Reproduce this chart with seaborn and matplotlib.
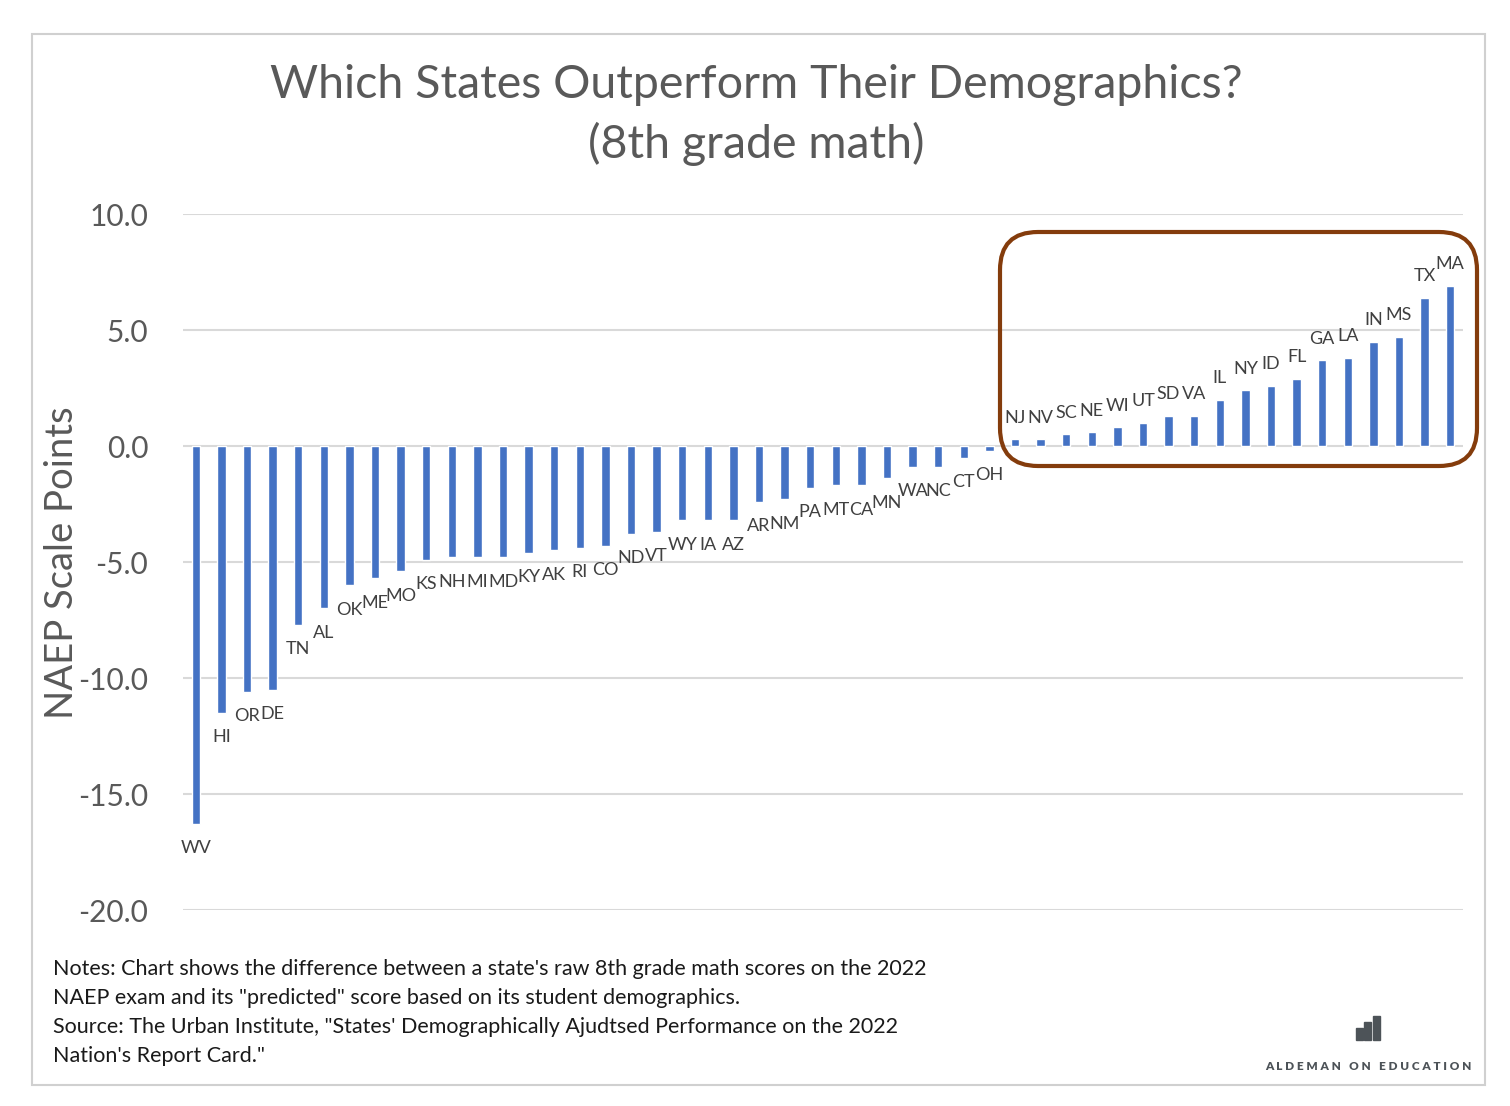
import matplotlib
matplotlib.use('Agg')
import matplotlib.pyplot as plt
from matplotlib.patches import FancyBboxPatch, Rectangle
from matplotlib.ticker import FormatStrFormatter
import seaborn as sns
import pandas as pd

# difference between raw and demographically predicted NAEP 8th grade math score
states = ['WV', 'HI', 'OR', 'DE', 'TN', 'AL', 'OK', 'ME', 'MO', 'KS',
          'NH', 'MI', 'MD', 'KY', 'AK', 'RI', 'CO', 'ND', 'VT', 'WY',
          'IA', 'AZ', 'AR', 'NM', 'PA', 'MT', 'CA', 'MN', 'WA', 'NC',
          'CT', 'OH', 'NJ', 'NV', 'SC', 'NE', 'WI', 'UT', 'SD', 'VA',
          'IL', 'NY', 'ID', 'FL', 'GA', 'LA', 'IN', 'MS', 'TX', 'MA']
gap = [-16.3, -11.5, -10.6, -10.5, -7.7, -7.0, -6.0, -5.7, -5.4, -4.9,
       -4.8, -4.8, -4.8, -4.6, -4.5, -4.4, -4.3, -3.8, -3.7, -3.2,
       -3.2, -3.2, -2.4, -2.3, -1.8, -1.7, -1.7, -1.4, -0.9, -0.9,
       -0.5, -0.2, 0.3, 0.3, 0.5, 0.6, 0.8, 1.0, 1.3, 1.3,
       2.0, 2.4, 2.6, 2.9, 3.7, 3.8, 4.5, 4.7, 6.4, 6.9]
y_ticks = [-20, -15, -10, -5, 0, 5, 10]

title = 'Which States Outperform Their Demographics?\n(8th grade math)'
notes = ['Notes: Chart shows the difference between a state\'s raw 8th grade math scores on the 2022',
         'NAEP exam and its "predicted" score based on its student demographics.',
         'Source: The Urban Institute, "States\' Demographically Ajudtsed Performance on the 2022',
         'Nation\'s Report Card."']

sns.set_theme(style='white')
plt.rcParams['font.family'] = ['Lato', 'DejaVu Sans']
plt.rcParams['axes.unicode_minus'] = False

W, H = 1510, 1106
fig = plt.figure(figsize=(W / 100, H / 100), dpi=100)
fig.patch.set_facecolor('white')
ax = fig.add_axes([183 / W, 196 / H, 1280 / W, 696 / H])

df = pd.DataFrame({'state': states, 'gap': gap})
sns.barplot(data=df, x='state', y='gap', color='#4472C4', saturation=1,
            width=0.33, ax=ax, zorder=3)

ax.set_xlim(-0.5, len(states) - 0.5)
ax.set_ylim(-20, 10)
ax.set_yticks(y_ticks)
ax.yaxis.set_major_formatter(FormatStrFormatter('%.1f'))
ax.set_xticks([])
ax.set_xlabel('')
ax.set_ylabel('')
ax.tick_params(axis='y', length=0, pad=25, labelsize=21.5, labelcolor='#595959')
ax.yaxis.grid(True, color='#D9D9D9', lw=1.5)
ax.set_axisbelow(True)
for s in ax.spines.values():
    s.set_visible(False)

# state labels at bar ends
for bar, st in zip(ax.patches, states):
    x = bar.get_x() + bar.get_width() / 2
    h = bar.get_height()
    dy = -17.5 if h < 0 else 15.5
    ax.annotate(st, (x, h), xytext=(0, dy), textcoords='offset points',
                ha='center', va='center', fontsize=13, color='#404040')

fig.text(0.501, 1 - 115 / H, title, ha='center', va='center', fontsize=33.5,
         color='#595959', linespacing=1.45)
fig.text(62 / W, 1 - 563 / H, 'NAEP Scale Points', rotation=90, ha='center',
         va='center', fontsize=27.5, color='#595959')

for i, line in enumerate(notes):
    fig.text(53 / W, 1 - (969 + 29 * i) / H, line, ha='left', va='center',
             fontsize=15.5, color='#1a1a1a')

inch = fig.dpi_scale_trans
# outer frame
fig.add_artist(Rectangle((0.32, (H - 1085) / 100), 14.53, 10.51, transform=inch,
                         fill=False, ec='#D0D0D0', lw=1.5))
# highlight box around the positive states
fig.add_artist(FancyBboxPatch((10.00, (H - 466) / 100), 4.77, 2.34,
                              boxstyle='round,pad=0,rounding_size=0.38',
                              transform=inch, fill=False, ec='#843C0C', lw=3))

# logo
for x0, top in [(1356, 1028), (1364, 1022), (1373, 1016)]:
    fig.add_artist(Rectangle((x0 / 100, (H - 1040) / 100), 0.065, (1040 - top) / 100,
                             transform=inch, color='#4d5358'))
fig.text(1368 / W, 1 - 1066 / H, 'A L D E M A N   O N   E D U C A T I O N',
         ha='center', va='center', fontsize=8.5, fontweight='heavy', color='#4d5358')

fig.savefig('out.png', dpi=100, facecolor='white')
